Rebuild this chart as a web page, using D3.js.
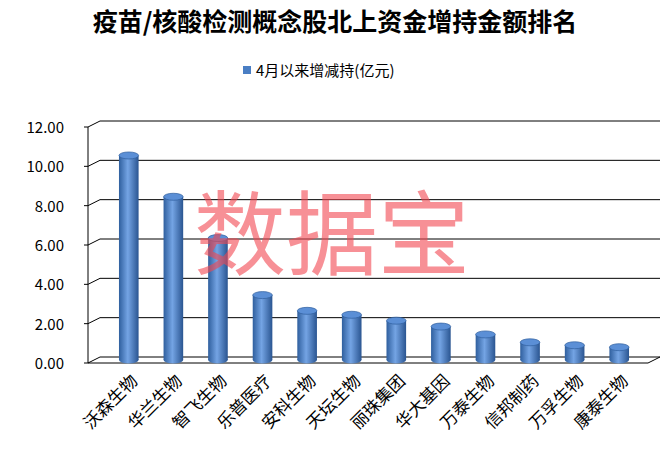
<!DOCTYPE html>
<html><head><meta charset="utf-8">
<script src="https://cdn.jsdelivr.net/npm/d3@7"></script>
<style>body{margin:0;background:#fff}</style>
</head><body>
<svg id="c" width="671" height="472"></svg>
<script>
// data
const categories = ["沃森生物","华兰生物","智飞生物","乐普医疗","安科生物","天坛生物","丽珠集团","华大基因","万泰生物","信邦制药","万孚生物","康泰生物"]
const values = [10.4, 8.3, 6.2, 3.3, 2.5, 2.3, 2.0, 1.7, 1.3, 0.9, 0.75, 0.65]
const ticks = [0, 2, 4, 6, 8, 10, 12]

const svg = d3.select("#c")
const font = "'Noto Sans CJK SC', sans-serif"
const dx = 12, dy = -6

const y = d3.scaleLinear().domain([0, 12]).range([363, 127])
const x = d3.scaleBand().domain(categories).range([88, 648]).padding(0.56)

// gradient for cylinders
const defs = svg.append("defs")
const g = defs.append("linearGradient").attr("id", "cyl")
g.append("stop").attr("offset", "0%").attr("stop-color", "#2f5f9e")
g.append("stop").attr("offset", "45%").attr("stop-color", "#74a4e4")
g.append("stop").attr("offset", "100%").attr("stop-color", "#2a5591")

// title + legend
svg.append("text").attr("x", 335).attr("y", 31).attr("text-anchor", "middle")
    .attr("font-family", "'Noto Sans CJK SC', sans-serif").attr("font-weight", "bold").attr("font-size", 25)
    .text("疫苗/核酸检测概念股北上资金增持金额排名")
svg.append("rect").attr("x", 243).attr("y", 66).attr("width", 8).attr("height", 8).attr("fill", "#4a7ec4")
svg.append("text").attr("x", 256).attr("y", 76).attr("font-family", font).attr("font-size", 15)
    .text("4月以来增减持(亿元)")

// grid / walls
const x0 = 88, x1 = 648
ticks.forEach(t => {
    const yy = y(t)
    svg.append("line").attr("x1", x0 - 4).attr("x2", x0).attr("y1", yy).attr("y2", yy).attr("stroke", "#000")
    svg.append("line").attr("x1", x0).attr("y1", yy).attr("x2", x0 + dx).attr("y2", yy + dy).attr("stroke", "#000")
    svg.append("line").attr("x1", x0 + dx).attr("y1", yy + dy).attr("x2", x1 + dx).attr("y2", yy + dy).attr("stroke", "#000")
    svg.append("text").attr("x", 64).attr("y", yy + 6).attr("text-anchor", "end")
        .attr("font-family", font).attr("font-size", 15).text(t.toFixed(2))
})
svg.append("line").attr("x1", x0).attr("x2", x0).attr("y1", y(12)).attr("y2", y(0)).attr("stroke", "#000")
svg.append("line").attr("x1", x0).attr("x2", x1).attr("y1", y(0)).attr("y2", y(0)).attr("stroke", "#000")
svg.append("line").attr("x1", x1).attr("y1", y(0)).attr("x2", x1 + dx).attr("y2", y(0) + dy).attr("stroke", "#000")

// cylinders
const bw = x.bandwidth(), ry = 3.5
categories.forEach((c, i) => {
    const cx = x(c) + bw / 2 + dx / 2
    const base = y(0) + dy / 2, top = y(values[i]) + dy / 2
    svg.append("ellipse").attr("cx", cx).attr("cy", base).attr("rx", bw / 2).attr("ry", ry).attr("fill", "url(#cyl)")
    svg.append("rect").attr("x", cx - bw / 2).attr("y", top).attr("width", bw).attr("height", base - top).attr("fill", "url(#cyl)")
    svg.append("ellipse").attr("cx", cx).attr("cy", top).attr("rx", bw / 2).attr("ry", ry)
        .attr("fill", "#5b8fd6").attr("stroke", "#2f5f9e").attr("stroke-width", 0.7)
    svg.append("text").attr("transform", `translate(${cx + 10},${382}) rotate(-45)`)
        .attr("text-anchor", "end").attr("font-family", font).attr("font-size", 17).text(c)
})

// watermark
svg.append("text").attr("x", 332).attr("y", 268).attr("text-anchor", "middle")
    .attr("font-family", font).attr("font-size", 92).attr("fill", "rgba(242,70,80,0.6)")
    .text("数据宝")
</script>
</body></html>
